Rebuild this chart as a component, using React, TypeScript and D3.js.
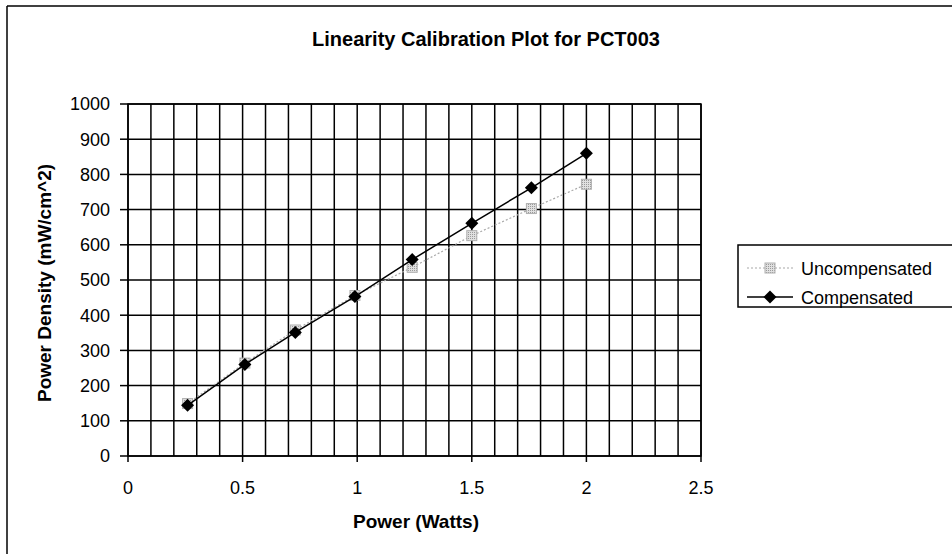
import React from "react";
import * as d3 from "d3";

const powerWatts = [0.26, 0.51, 0.73, 0.99, 1.24, 1.5, 1.76, 2.0];
const uncompensated = [149, 264, 358, 456, 536, 626, 703, 772];
const compensated = [144, 260, 351, 453, 558, 661, 762, 860];
const xTicks = [0, 0.5, 1, 1.5, 2, 2.5];
const yTicks = [0, 100, 200, 300, 400, 500, 600, 700, 800, 900, 1000];
const xGrid = d3.range(0, 26).map((i) => i / 10);
const seriesNames = ["Uncompensated", "Compensated"];
const chartTitle = "Linearity Calibration Plot for PCT003";
const xTitle = "Power (Watts)";
const yTitle = "Power Density (mW/cm^2)";

const W = 952;
const H = 554;
const plot = { left: 128, right: 701, top: 104, bottom: 456 };
const font = "'Liberation Sans', Arial, sans-serif";

export default function App() {
  const x = d3.scaleLinear().domain([0, 2.5]).range([plot.left, plot.right]);
  const y = d3.scaleLinear().domain([0, 1000]).range([plot.bottom, plot.top]);
  const line = d3
    .line<[number, number]>()
    .x((d) => x(d[0]))
    .y((d) => y(d[1]));
  const uncPts: [number, number][] = powerWatts.map((p, i) => [p, uncompensated[i]]);
  const cmpPts: [number, number][] = powerWatts.map((p, i) => [p, compensated[i]]);
  const diamond = (cx: number, cy: number, r: number) =>
    `M${cx},${cy - r}L${cx + r},${cy}L${cx},${cy + r}L${cx - r},${cy}Z`;

  return (
    <svg
      width={W}
      height={H}
      style={{ position: "absolute", left: 0, top: 0, background: "#fff" }}
      fontFamily={font}
    >
      <defs>
        <pattern id="dots" width="2" height="2" patternUnits="userSpaceOnUse">
          <rect width="2" height="2" fill="#e0e0e0" />
          <rect width="1" height="1" fill="#9a9a9a" />
        </pattern>
      </defs>
      <rect x={0} y={0} width={W} height={H} fill="#fff" />
      {/* chart border */}
      <line x1={7} y1={6} x2={W} y2={6} stroke="#000" strokeWidth={1.5} />
      <line x1={7} y1={6} x2={7} y2={H} stroke="#000" strokeWidth={1.5} />

      <text x={486} y={46} textAnchor="middle" fontSize={20} fontWeight="bold">
        {chartTitle}
      </text>

      {/* grid */}
      {xGrid.map((v) => (
        <line
          key={"vx" + v}
          x1={x(v)}
          x2={x(v)}
          y1={plot.top}
          y2={plot.bottom}
          stroke="#000"
          strokeWidth={1.5}
        />
      ))}
      {yTicks.map((v) => (
        <line
          key={"hy" + v}
          x1={plot.left}
          x2={plot.right}
          y1={y(v)}
          y2={y(v)}
          stroke="#000"
          strokeWidth={1.5}
        />
      ))}
      <rect
        x={plot.left}
        y={plot.top}
        width={plot.right - plot.left}
        height={plot.bottom - plot.top}
        fill="none"
        stroke="#000"
        strokeWidth={1.5}
      />

      {/* y ticks */}
      {yTicks.map((v) => (
        <g key={"yt" + v}>
          <line x1={plot.left - 8} x2={plot.left} y1={y(v)} y2={y(v)} stroke="#000" strokeWidth={1.5} />
          <text x={110} y={y(v)} dy="0.35em" textAnchor="end" fontSize={18}>
            {v}
          </text>
        </g>
      ))}
      {/* x ticks */}
      {xTicks.map((v) => (
        <g key={"xt" + v}>
          <line x1={x(v)} x2={x(v)} y1={plot.bottom} y2={plot.bottom + 6} stroke="#000" strokeWidth={1.5} />
          <text x={x(v)} y={494} textAnchor="middle" fontSize={18}>
            {v}
          </text>
        </g>
      ))}

      <text x={416} y={528} textAnchor="middle" fontSize={19} fontWeight="bold">
        {xTitle}
      </text>
      <text
        transform={`translate(51,${(plot.top + plot.bottom) / 2 + 3}) rotate(-90)`}
        textAnchor="middle"
        fontSize={19}
        fontWeight="bold"
      >
        {yTitle}
      </text>

      {/* series */}
      <path d={line(uncPts) || ""} fill="none" stroke="#a8a8a8" strokeWidth={1.2} strokeDasharray="2,2" />
      {uncPts.map((d, i) => (
        <rect
          key={"u" + i}
          x={x(d[0]) - 5}
          y={y(d[1]) - 5}
          width={10}
          height={10}
          fill="url(#dots)"
          stroke="#b0b0b0"
          strokeWidth={1}
        />
      ))}
      <path d={line(cmpPts) || ""} fill="none" stroke="#000" strokeWidth={1.5} />
      {cmpPts.map((d, i) => (
        <path key={"c" + i} d={diamond(x(d[0]), y(d[1]), 6.5)} fill="#000" />
      ))}

      {/* legend */}
      <rect x={738} y={245} width={230} height={62} fill="#fff" stroke="#000" strokeWidth={1.5} />
      <line x1={747} x2={793} y1={268} y2={268} stroke="#a8a8a8" strokeWidth={1.2} strokeDasharray="2,2" />
      <rect x={765} y={263} width={10} height={10} fill="url(#dots)" stroke="#b0b0b0" strokeWidth={1} />
      <text x={801} y={275} fontSize={18}>
        {seriesNames[0]}
      </text>
      <line x1={747} x2={793} y1={297} y2={297} stroke="#000" strokeWidth={1.5} />
      <path d={diamond(770, 297, 6.5)} fill="#000" />
      <text x={801} y={304} fontSize={18}>
        {seriesNames[1]}
      </text>
    </svg>
  );
}
